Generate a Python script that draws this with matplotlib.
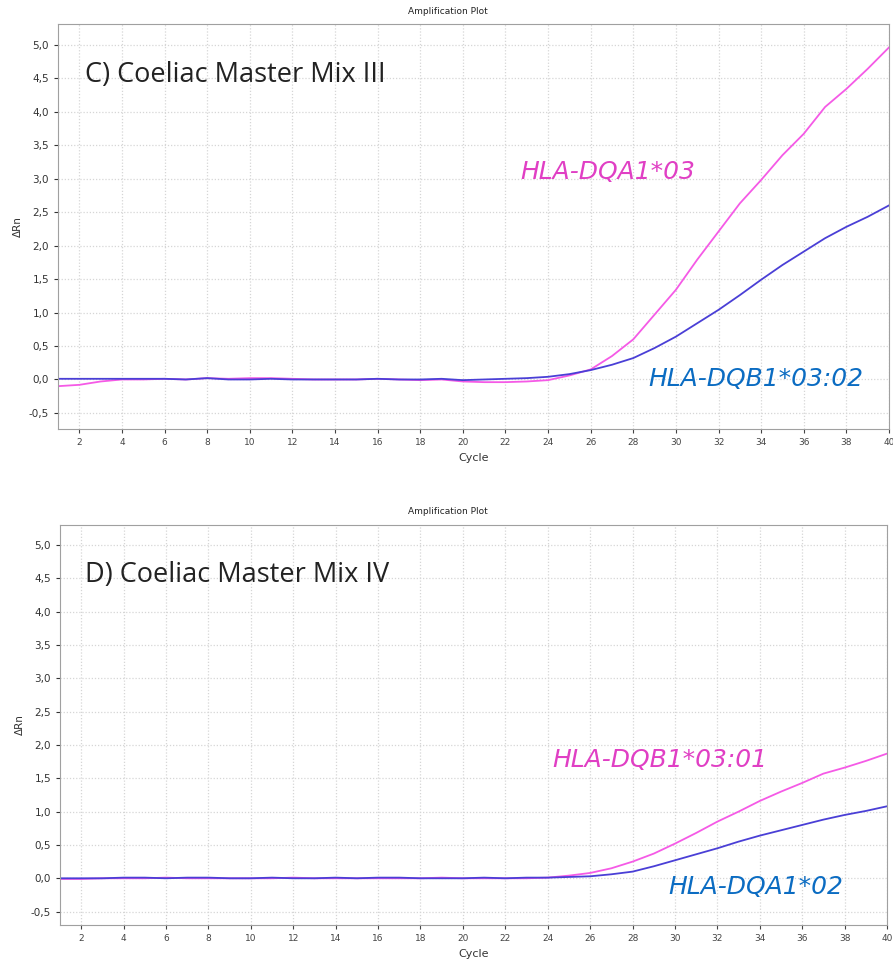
import numpy as np
import matplotlib.pyplot as plt
from matplotlib.ticker import FuncFormatter, MultipleLocator

cycles = list(range(1, 41))

# Panel C: Coeliac Master Mix III
c_dqa1_03 = [-0.10, -0.08, -0.03, 0.00, 0.00, 0.01, 0.00, 0.02, 0.01, 0.02,
             0.02, 0.01, 0.00, 0.00, 0.00, 0.01, 0.00, -0.01, 0.00, -0.03,
             -0.04, -0.04, -0.03, -0.01, 0.06, 0.15, 0.35, 0.60, 0.97, 1.34,
             1.79, 2.21, 2.63, 2.98, 3.35, 3.67, 4.07, 4.34, 4.64, 4.96]
c_dqb1_0302 = [0.01, 0.01, 0.01, 0.01, 0.01, 0.01, 0.00, 0.02, 0.00, 0.00,
               0.01, 0.00, 0.00, 0.00, 0.00, 0.01, 0.00, 0.00, 0.01, -0.01,
               0.00, 0.01, 0.02, 0.04, 0.08, 0.14, 0.22, 0.32, 0.47, 0.64,
               0.84, 1.04, 1.26, 1.49, 1.71, 1.91, 2.11, 2.28, 2.43, 2.60]

# Panel D: Coeliac Master Mix IV
d_dqb1_0301 = [-0.01, -0.01, 0.00, 0.00, 0.00, 0.01, 0.00, 0.00, 0.00, 0.00,
               0.00, 0.01, 0.00, 0.00, 0.00, 0.00, 0.00, 0.00, 0.01, 0.00,
               0.00, 0.00, 0.00, 0.01, 0.04, 0.08, 0.15, 0.25, 0.37, 0.52,
               0.68, 0.85, 1.00, 1.16, 1.30, 1.43, 1.57, 1.66, 1.76, 1.87]
d_dqa1_02 = [0.00, 0.00, 0.00, 0.01, 0.01, 0.00, 0.01, 0.01, 0.00, 0.00,
             0.01, 0.00, 0.00, 0.01, 0.00, 0.01, 0.01, 0.00, 0.00, 0.00,
             0.01, 0.00, 0.01, 0.01, 0.02, 0.03, 0.06, 0.10, 0.18, 0.27,
             0.36, 0.45, 0.55, 0.64, 0.72, 0.80, 0.88, 0.95, 1.01, 1.08]

panels = [
    dict(rect=[0.065, 0.5545, 0.9305, 0.4206], ylim=(-0.74, 5.31),
         title="C) Coeliac Master Mix III",
         top=c_dqa1_03, low=c_dqb1_0302,
         top_lbl="HLA-DQA1*03", low_lbl="HLA-DQB1*03:02",
         top_xy=(520, 172), low_xy=(648, 379), head_y=12, cap_y=458),
    dict(rect=[0.0672, 0.0395, 0.9261, 0.4154], ylim=(-0.70, 5.30),
         title="D) Coeliac Master Mix IV",
         top=d_dqb1_0301, low=d_dqa1_02,
         top_lbl="HLA-DQB1*03:01", low_lbl="HLA-DQA1*02",
         top_xy=(552, 760), low_xy=(668, 887), head_y=512, cap_y=953),
]

W, H = 893, 963
fig = plt.figure(figsize=(W / 100, H / 100), dpi=100)

pink = "#f55ae6"
purple = "#4a3fd6"
pink_txt = "#e03fc4"
blue_txt = "#0b6cc2"

comma = FuncFormatter(lambda v, p: ("%.1f" % v).replace(".", ","))

for p in panels:
    ax = fig.add_axes(p["rect"])
    ax.plot(cycles, p["top"], color=pink, lw=1.3)
    ax.plot(cycles, p["low"], color=purple, lw=1.3)
    ax.set_xlim(1, 40)
    ax.set_ylim(*p["ylim"])
    ax.xaxis.set_major_locator(MultipleLocator(2))
    ax.yaxis.set_major_locator(MultipleLocator(0.5))
    ax.yaxis.set_major_formatter(comma)
    ax.tick_params(axis="x", labelsize=6.5, colors="#444444", length=3)
    ax.tick_params(axis="y", labelsize=7.5, colors="#333333", length=3)
    ax.grid(True, color="#d6d6d6", linestyle=(0, (1, 1.5)), linewidth=0.9)
    for s in ax.spines.values():
        s.set_color("#a0a0a0")
    ax.set_xlabel("Cycle", fontsize=8, color="#333333", labelpad=4)
    ax.set_ylabel("\u0394Rn", fontsize=7.5, color="#333333", labelpad=4)

    fig.text(448 / W, 1 - p["head_y"] / H, "Amplification Plot", fontsize=6.5,
             ha="center", va="center", color="#222222")
    fig.text(85 / W, 1 - (p["head_y"] + 63) / H, p["title"], fontsize=19.5,
             family="Open Sans", ha="left", va="center", color="#222222")
    fig.text(p["top_xy"][0] / W, 1 - p["top_xy"][1] / H, p["top_lbl"],
             fontsize=18, family="DejaVu Sans", style="italic",
             ha="left", va="center", color=pink_txt)
    fig.text(p["low_xy"][0] / W, 1 - p["low_xy"][1] / H, p["low_lbl"],
             fontsize=18, family="DejaVu Sans", style="italic",
             ha="left", va="center", color=blue_txt)

fig.savefig("out.png", dpi=100)
